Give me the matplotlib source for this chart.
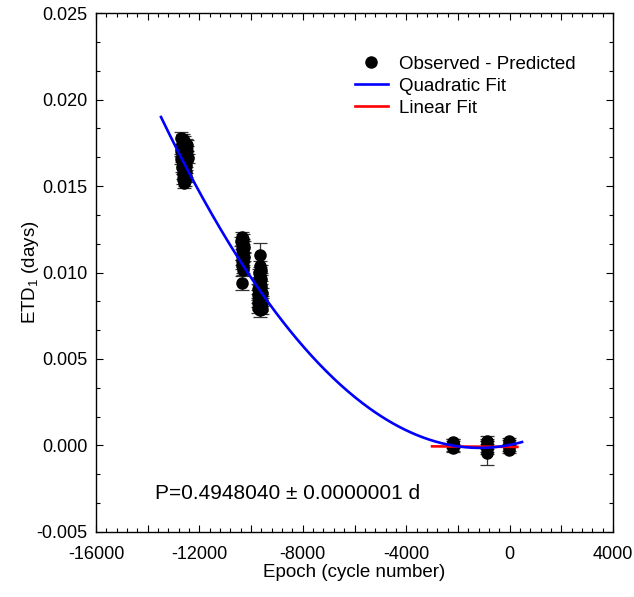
import matplotlib

matplotlib.use("Agg")
import matplotlib.pyplot as plt
import numpy as np
from matplotlib.lines import Line2D
from matplotlib.ticker import FuncFormatter, MultipleLocator

plt.rcParams["font.family"] = ["Liberation Sans", "DejaVu Sans"]
plt.rcParams["mathtext.fontset"] = "custom"
plt.rcParams["mathtext.rm"] = "Liberation Sans"
plt.rcParams["axes.unicode_minus"] = False

# Observed - predicted timings (epoch, ETD1 in days, error in days)
epoch_a = [-12700, -12640, -12580, -12520, -12470, -12690, -12610, -12550, -12490,
           -12720, -12660, -12600, -12530, -12460, -12700, -12640, -12570, -12510,
           -12680, -12620, -12560, -12500, -12650, -12590, -12530, -12620, -12560,
           -12600]
etd_a = [0.01775, 0.01770, 0.01760, 0.01745, 0.01735, 0.01740, 0.01725, 0.01715,
         0.01700, 0.01705, 0.01690, 0.01680, 0.01670, 0.01660, 0.01655, 0.01640,
         0.01630, 0.01620, 0.01610, 0.01600, 0.01590, 0.01580, 0.01570, 0.01560,
         0.01550, 0.01540, 0.01530, 0.01520]
err_a = [0.00035, 0.0003, 0.0003, 0.00025, 0.0003, 0.0003, 0.00025, 0.0003,
         0.0003, 0.0003, 0.00025, 0.0003, 0.0003, 0.00025, 0.0003, 0.0003,
         0.00025, 0.0003, 0.0003, 0.0003, 0.00025, 0.0003, 0.0003, 0.0003,
         0.00025, 0.0003, 0.0003, 0.0003]

epoch_b = [-10350, -10300, -10380, -10320, -10290, -10360, -10310, -10340, -10290,
           -10370, -10320, -10350, -10300, -10330, -10340]
etd_b = [0.01205, 0.01195, 0.01180, 0.01165, 0.01150, 0.01135, 0.01120, 0.01105,
         0.01090, 0.01075, 0.01060, 0.01045, 0.01030, 0.01015, 0.00940]
err_b = [0.0003, 0.0003, 0.00025, 0.0003, 0.0003, 0.00025, 0.0003, 0.0003,
         0.00025, 0.0003, 0.0003, 0.00025, 0.0003, 0.0003, 0.0004]

epoch_c = [-9650, -9660, -9620, -9690, -9640, -9600, -9700, -9650, -9610, -9720,
           -9670, -9580, -9740, -9690, -9620, -9560, -9750, -9680, -9600, -9720,
           -9640, -9560]
etd_c = [0.01100, 0.01035, 0.01015, 0.00995, 0.00980, 0.00965, 0.00950, 0.00935,
         0.00920, 0.00905, 0.00890, 0.00880, 0.00870, 0.00855, 0.00845, 0.00835,
         0.00825, 0.00815, 0.00805, 0.00795, 0.00785, 0.00790]
err_c = [0.0007, 0.0003, 0.0003, 0.00025, 0.0003, 0.0003, 0.00025, 0.0003,
         0.0003, 0.0003, 0.00025, 0.0003, 0.0003, 0.00025, 0.0003, 0.0003,
         0.00025, 0.0003, 0.0003, 0.0003, 0.0004, 0.0003]

epoch_d = [-2200, -2190, -2180, -2200, -2185, -880, -870, -875, -880, -870,
           -30, -10, -20, -15]
etd_d = [0.00020, 0.00005, -0.00010, -0.00015, 0.00015, 0.00026, 0.00010,
         -0.00005, -0.00020, -0.00043, 0.00025, 0.00010, -0.00010, -0.00025]
err_d = [0.0002, 0.0002, 0.0002, 0.0002, 0.0002, 0.0003, 0.0003, 0.0003,
         0.0003, 0.0007, 0.0002, 0.0002, 0.0002, 0.0002]

# Fit coefficients (highest power first) and plotted epoch ranges
quad_coeffs = [1.259e-10, 2.92e-7, 3.08e-5]
quad_range = [-13485, 480]
lin_coeffs = [-1.0e-8, -0.00008]
lin_range = [-3000, 300]

x_ticks_labeled = [-16000, -12000, -8000, -4000, 0, 4000]

fig = plt.figure(figsize=(6.34, 5.97), dpi=100)
ax = fig.add_axes([0.1514, 0.1089, 0.8155, 0.8693])

epochs = np.array(epoch_a + epoch_b + epoch_c + epoch_d)
etds = np.array(etd_a + etd_b + etd_c + etd_d)
errs = np.array(err_a + err_b + err_c + err_d)

ax.errorbar(epochs, etds, yerr=errs, fmt="none", ecolor="#333333",
            elinewidth=0.9, capsize=5, capthick=0.9, zorder=2)
ax.plot(epochs, etds, "o", color="black", markersize=8, zorder=3)

qx = np.linspace(quad_range[0], quad_range[1], 300)
ax.plot(qx, np.polyval(quad_coeffs, qx), color="#0000ff", linewidth=1.9, zorder=4)
lx = np.array(lin_range)
ax.plot(lx, np.polyval(lin_coeffs, lx), color="#ff0000", linewidth=1.9, zorder=3.5)

ax.set_xlim(-16000, 4000)
ax.set_ylim(-0.005, 0.025)

ax.xaxis.set_major_locator(MultipleLocator(2000))
ax.xaxis.set_minor_locator(MultipleLocator(400))
ax.xaxis.set_major_formatter(
    FuncFormatter(lambda v, p: f"{v:.0f}" if round(v) in x_ticks_labeled else ""))
ax.yaxis.set_major_locator(MultipleLocator(0.005))
ax.yaxis.set_minor_locator(MultipleLocator(0.005 / 3))
ax.yaxis.set_major_formatter(FuncFormatter(lambda v, p: f"{v:.3f}"))

ax.tick_params(which="both", direction="in", top=True, right=True,
               labelsize=13, width=0.8)
ax.tick_params(which="major", length=5)
ax.tick_params(which="minor", length=3)
ax.tick_params(axis="x", which="major", pad=10)
ax.tick_params(axis="y", which="major", pad=6)
for s in ax.spines.values():
    s.set_linewidth(1.0)

ax.set_xlabel("Epoch (cycle number)", fontsize=13.5, labelpad=1)
ax.set_ylabel(r"ETD$_\mathrm{1}$ (days)", fontsize=13.5)
ax.yaxis.set_label_coords(-0.106, 0.5)

ax.text(0.114, 0.075, "P=0.4948040 \u00b1 0.0000001 d", transform=ax.transAxes,
        fontsize=15, ha="left", va="center")

handles = [
    Line2D([], [], marker="o", color="black", linestyle="none", markersize=8),
    Line2D([], [], color="#0000ff", linewidth=1.9),
    Line2D([], [], color="#ff0000", linewidth=1.9),
]
labels = ["Observed - Predicted", "Quadratic Fit", "Linear Fit"]
ax.legend(handles, labels, loc="upper left", bbox_to_anchor=(0.468, 0.950),
          frameon=False, fontsize=13.5, handlelength=1.76, handletextpad=0.59,
          labelspacing=0.25)

fig.savefig("out.png", dpi=100)
